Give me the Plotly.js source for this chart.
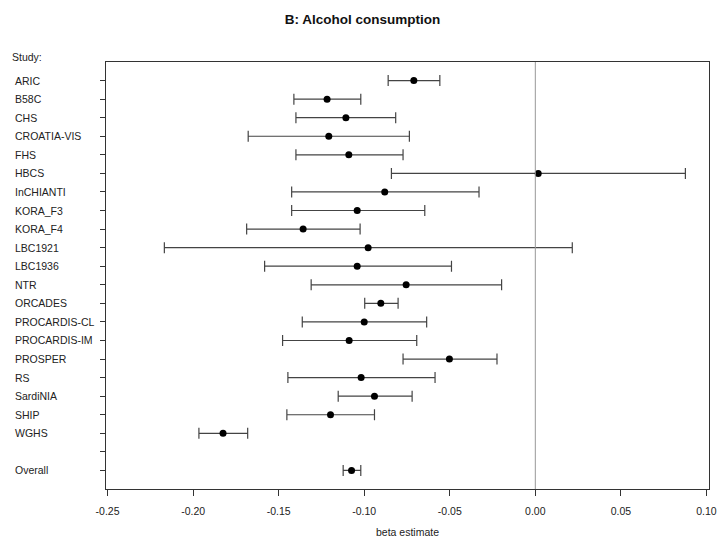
<!DOCTYPE html>
<html>
<head>
<meta charset="utf-8">
<script src="https://cdn.plot.ly/plotly-3.0.1.min.js"></script>
<style>html,body{margin:0;padding:0;background:#fff}#chart{width:718px;height:541px}</style>
</head>
<body>
<div id="chart"></div>
<script>
const studies = ["ARIC","B58C","CHS","CROATIA-VIS","FHS","HBCS","InCHIANTI","KORA_F3","KORA_F4","LBC1921","LBC1936","NTR","ORCADES","PROCARDIS-CL","PROCARDIS-IM","PROSPER","RS","SardiNIA","SHIP","WGHS","","Overall"];
const estimate = [-0.0710,-0.1217,-0.1107,-0.1207,-0.1090,0.0017,-0.0880,-0.1041,-0.1357,-0.0977,-0.1041,-0.0755,-0.0903,-0.1000,-0.1088,-0.0502,-0.1018,-0.0940,-0.1197,-0.1825,null,-0.1074];
const lower = [-0.0860,-0.1411,-0.1399,-0.1678,-0.1399,-0.0841,-0.1424,-0.1424,-0.1687,-0.2168,-0.1582,-0.1310,-0.0997,-0.1362,-0.1477,-0.0773,-0.1446,-0.1152,-0.1452,-0.1966,null,-0.1123];
const upper = [-0.0558,-0.1020,-0.0816,-0.0736,-0.0773,0.0877,-0.0329,-0.0646,-0.1024,0.0216,-0.0490,-0.0197,-0.0802,-0.0635,-0.0693,-0.0224,-0.0586,-0.0720,-0.0940,-0.1681,null,-0.1020];
const xTicks = [-0.25,-0.20,-0.15,-0.10,-0.05,0.00,0.05,0.10];

const rows = studies.map((s,i)=>i+1);
const FONT = "Liberation Sans, Arial, sans-serif";

const trace = {
  type: "scatter", mode: "markers",
  x: estimate, y: rows,
  marker: {color: "#000", size: 7},
  error_x: {
    type: "data", symmetric: false,
    array: estimate.map((e,i)=> e===null?null:upper[i]-e),
    arrayminus: estimate.map((e,i)=> e===null?null:e-lower[i]),
    color: "#444", thickness: 1.2, width: 5.5
  },
  hoverinfo: "skip", showlegend: false
};

const annotations = studies.map((s,i)=>({
  text: s, xref: "paper", yref: "y", x: -0.1545, y: i+1,
  xanchor: "left", yanchor: "middle", showarrow: false,
  font: {family: FONT, size: 10.5, color: "#222"}
}));
annotations.push({text: "Study:", xref: "paper", yref: "paper", x: -0.159, y: 1.011,
  xanchor: "left", yanchor: "middle", showarrow: false,
  font: {family: FONT, size: 10.5, color: "#222"}});

const layout = {
  width: 718, height: 541,
  margin: {l: 105.7, r: 8.7, t: 61.7, b: 52},
  paper_bgcolor: "#fff", plot_bgcolor: "#fff",
  font: {family: FONT, size: 10.5, color: "#222"},
  title: {text: "<b>B: Alcohol consumption</b>", x: 0.505, xanchor: "center", y: 0.965, yanchor: "middle",
    font: {family: FONT, size: 13.5, color: "#111"}},
  xaxis: {
    range: [-0.2509, 0.1015], tickvals: xTicks, ticktext: xTicks.map(v=>v.toFixed(2)),
    showgrid: false, zeroline: false, showline: true, mirror: true, linecolor: "#333", linewidth: 1.2,
    ticks: "outside", ticklen: 6, tickcolor: "#333", ticklabelstandoff: 6,
    tickfont: {family: FONT, size: 10.5, color: "#222"},
    title: {text: "beta estimate", standoff: 12, font: {family: FONT, size: 10.5, color: "#222"}}
  },
  yaxis: {
    range: [23, 0], tickvals: rows, ticktext: rows.map(()=>""),
    showgrid: false, zeroline: false, showline: true, mirror: true, linecolor: "#333", linewidth: 1.2,
    ticks: "outside", ticklen: 5, tickcolor: "#333"
  },
  shapes: [{type: "line", xref: "x", yref: "paper", x0: 0, x1: 0, y0: 0, y1: 1,
    line: {color: "#999", width: 1}}],
  annotations: annotations
};

Plotly.newPlot("chart", [trace], layout, {displayModeBar: false, staticPlot: true});
</script>
</body>
</html>
